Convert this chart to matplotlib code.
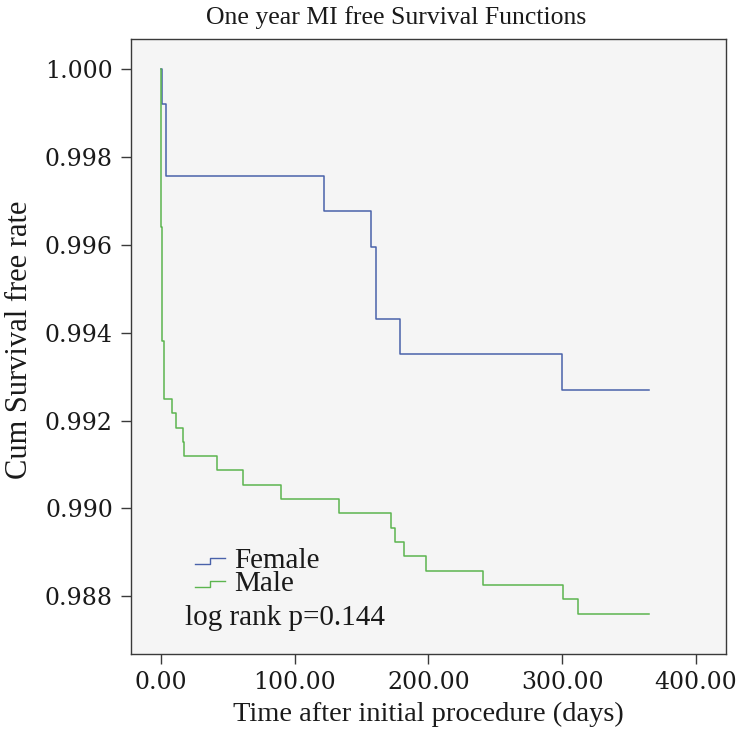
import matplotlib
matplotlib.use('Agg')
import matplotlib.pyplot as plt
from matplotlib.legend_handler import HandlerBase
from matplotlib.lines import Line2D

# Kaplan-Meier steps (days, cumulative survival)
female_days = [0, 0.5, 3.5, 4, 122, 157, 161, 179, 300, 365]
female_surv = [1.0, 0.99919, 0.99838, 0.99757, 0.99676, 0.99595, 0.99432, 0.99351, 0.99270, 0.99270]

male_days = [0, 0.3, 1.0, 2.0, 2.5, 8, 11, 16.7, 17.4, 42, 61, 90, 133, 172, 175, 182, 198, 241, 300.5, 312, 365]
male_surv = [1.0, 0.99639, 0.99381, 0.99283, 0.99250, 0.99217, 0.99184, 0.99151, 0.99120, 0.99087,
             0.99054, 0.99021, 0.98989, 0.98956, 0.98923, 0.98891, 0.98858, 0.98826, 0.98793, 0.98760, 0.98760]

y_ticks = [0.988, 0.990, 0.992, 0.994, 0.996, 0.998, 1.000]
x_ticks = [0, 100, 200, 300, 400]

blue = '#4a62aa'
green = '#5cb54f'


class StepHandler(HandlerBase):
    # legend glyph shaped like a small step
    def create_artists(self, legend, orig_handle, xdescent, ydescent, width, height, fontsize, trans):
        x0 = -xdescent
        y0 = -ydescent
        xs = [x0, x0 + width * 0.5, x0 + width * 0.5, x0 + width]
        ys = [y0 + height * 0.2, y0 + height * 0.2, y0 + height * 0.5, y0 + height * 0.5]
        ln = Line2D(xs, ys, color=orig_handle.get_color(), lw=1.0)
        ln.set_transform(trans)
        return [ln]


fig = plt.figure(figsize=(7.37, 7.42), dpi=100)
ax = fig.add_axes([0.1777, 0.1186, 0.8073, 0.8282])
ax.set_facecolor('#f5f5f5')

l1, = ax.step(female_days, female_surv, where='post', color=blue, lw=1.1)
l2, = ax.step(male_days, male_surv, where='post', color=green, lw=1.1)

ax.set_xlim(-22.5, 422.5)
ax.set_ylim(0.98669, 1.000666)
ax.set_xticks(x_ticks)
ax.set_xticklabels(['%.2f' % v for v in x_ticks])
ax.set_yticks(y_ticks)
ax.set_yticklabels(['%.3f' % v for v in y_ticks])

for sp in ax.spines.values():
    sp.set_color('#3a3a3a')
    sp.set_linewidth(1.0)
ax.tick_params(axis='both', direction='out', length=7, width=1.0, color='#3a3a3a',
               labelsize=17, pad=5, labelcolor='#1a1a1a')
ax.tick_params(axis='y', pad=6)
for lab in ax.get_xticklabels() + ax.get_yticklabels():
    lab.set_family('DejaVu Serif')

ax.set_xlabel('Time after initial procedure (days)', family='Liberation Serif', fontsize=20.5,
              color='#1a1a1a', labelpad=6)
ax.set_ylabel('Cum Survival free rate', family='Liberation Serif', fontsize=22,
              color='#1a1a1a')
ax.yaxis.set_label_coords(-0.163, 0.511)
fig.text(0.537, 0.977, 'One year MI free Survival Functions', ha='center', va='center',
         family='Liberation Serif', fontsize=18.5, color='#1a1a1a')

leg = ax.legend([l1, l2], ['Female', 'Male'], handler_map={Line2D: StepHandler()},
                loc='upper left', bbox_to_anchor=(0.1076, 0.1725), frameon=False,
                prop={'family': 'Liberation Serif', 'size': 21}, handlelength=1.03,
                handletextpad=0.32, labelspacing=-0.14, borderpad=0, borderaxespad=0)
for t in leg.get_texts():
    t.set_color('#1a1a1a')

ax.text(0.091, 0.0585, 'log rank p=0.144', transform=ax.transAxes, ha='left', va='center',
        family='Liberation Serif', fontsize=21, color='#1a1a1a')

plt.savefig('out.png', dpi=100)
